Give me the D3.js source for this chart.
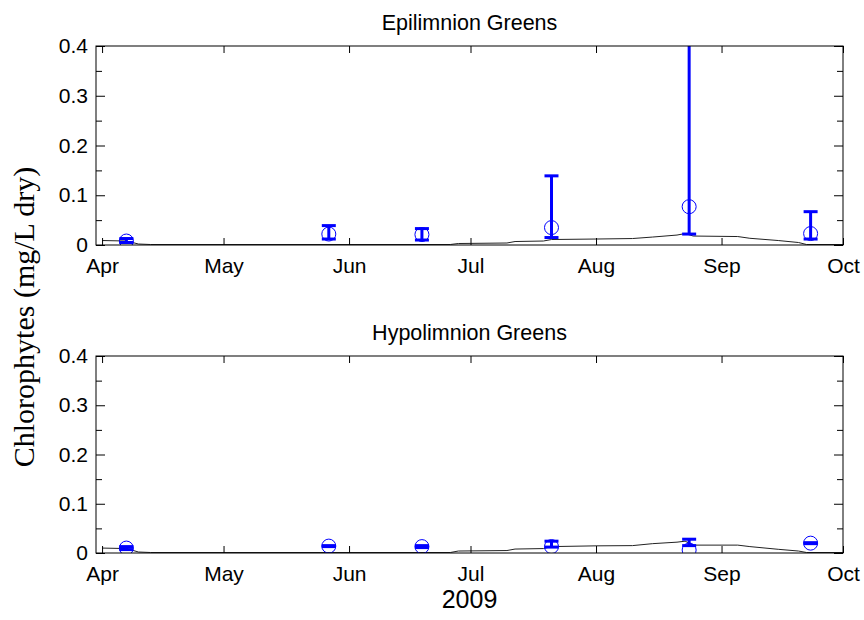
<!DOCTYPE html>
<html>
<head>
<meta charset="utf-8">
<script src="https://cdn.jsdelivr.net/npm/d3@7"></script>
<style>
  body { margin: 0; background: #fff; }
  svg text { font-family: Arial, "Liberation Sans", Helvetica, sans-serif; fill: #000; }
  .tick line { stroke: #000; }
  .ylab { font-family: "Times New Roman", "Liberation Serif", serif !important; }
</style>
</head>
<body>
<div id="chart"></div>
<script>
// sampling dates and observations (mean, error-bar low/high)
const sampleDates = ["2009-04-07", "2009-05-27", "2009-06-19", "2009-07-21", "2009-08-24", "2009-09-23"];
const epiObs  = [0.008, 0.022, 0.021, 0.035, 0.077, 0.023];
const epiLo   = [0.005, 0.012, 0.010, 0.015, 0.022, 0.012];
const epiHi   = [0.013, 0.039, 0.033, 0.139, 0.450, 0.067];
const hypoObs = [0.010, 0.014, 0.013, 0.013, 0.006, 0.020];
const hypoLo  = [0.007, 0.013, 0.011, 0.012, 0.015, 0.019];
const hypoHi  = [0.013, 0.015, 0.015, 0.024, 0.028, 0.021];

// simulated (model) series
const modelDates = ["2009-04-01", "2009-04-07", "2009-04-10", "2009-04-13", "2009-06-26", "2009-06-28",
  "2009-07-10", "2009-07-12", "2009-07-19", "2009-07-21", "2009-08-01", "2009-08-10", "2009-08-15",
  "2009-08-21", "2009-08-23", "2009-08-25", "2009-09-05", "2009-09-08", "2009-09-15", "2009-09-20",
  "2009-09-22", "2009-10-01"];
const epiModel  = [0.009, 0.008, 0.002, 0.001, 0.001, 0.003, 0.004, 0.007, 0.008, 0.011, 0.012, 0.013,
  0.016, 0.020, 0.023, 0.018, 0.017, 0.0135, 0.009, 0.005, 0.001, 0.001];
const hypoModel = [0.010, 0.009, 0.002, 0.001, 0.001, 0.004, 0.005, 0.008, 0.009, 0.013, 0.0145, 0.015,
  0.019, 0.022, 0.024, 0.016, 0.016, 0.013, 0.0075, 0.004, 0.001, 0.001];

const yTicks = [0, 0.1, 0.2, 0.3, 0.4];
const yMinor = [0.05, 0.15, 0.25, 0.35];
const xLabel = "2009";
const yLabel = "Chlorophytes (mg/L dry)";

const W = 864, H = 620;
const left = 96, right = 843;
const parse = d3.timeParse("%Y-%m-%d");
const blue = "#0000ff";

const svg = d3.select("#chart").append("svg")
  .attr("width", W)
  .attr("height", H);

const x = d3.scaleTime()
  .domain([new Date(2009, 2, 30, 12), new Date(2009, 9, 1)])
  .range([left, right]);
const months = d3.timeMonth.range(new Date(2009, 3, 1), new Date(2009, 9, 2));

function panel(id, title, top, bottom, obs, lo, hi, model) {
  const y = d3.scaleLinear().domain([0, 0.4]).range([bottom, top]);
  const g = svg.append("g");

  g.append("clipPath").attr("id", id)
    .append("rect")
    .attr("x", left).attr("y", top)
    .attr("width", right - left).attr("height", bottom - top);

  // title
  g.append("text")
    .attr("x", (left + right) / 2)
    .attr("y", top - 16.5)
    .attr("text-anchor", "middle")
    .style("font-size", "21.5px")
    .text(title);

  const plot = g.append("g").attr("clip-path", `url(#${id})`);

  // model line
  const pts = modelDates.map((d, i) => [parse(d), model[i]]);
  plot.append("path")
    .datum(pts)
    .attr("fill", "none")
    .attr("stroke", "#222")
    .attr("stroke-width", 1)
    .attr("d", d3.line().x(d => x(d[0])).y(d => y(d[1])));

  // error bars
  const obsData = sampleDates.map((d, i) => ({ date: parse(d), v: obs[i], lo: lo[i], hi: hi[i] }));
  const eb = plot.selectAll("g.eb").data(obsData).enter().append("g")
    .attr("stroke", blue)
    .attr("stroke-width", 3);
  eb.append("line")
    .attr("x1", d => x(d.date)).attr("x2", d => x(d.date))
    .attr("y1", d => y(d.lo)).attr("y2", d => y(d.hi));
  eb.append("line")
    .attr("x1", d => x(d.date) - 7).attr("x2", d => x(d.date) + 7)
    .attr("y1", d => y(d.lo)).attr("y2", d => y(d.lo));
  eb.append("line")
    .attr("x1", d => x(d.date) - 7).attr("x2", d => x(d.date) + 7)
    .attr("y1", d => y(d.hi)).attr("y2", d => y(d.hi));

  plot.selectAll("circle").data(obsData).enter().append("circle")
    .attr("cx", d => x(d.date))
    .attr("cy", d => y(d.v))
    .attr("r", 7)
    .attr("fill", "none")
    .attr("stroke", blue)
    .attr("stroke-width", 1);

  // axes, ticks pointing inward
  g.append("g").attr("transform", `translate(0,${bottom})`)
    .call(d3.axisBottom(x).tickValues(months).tickFormat(d3.timeFormat("%b")).tickSize(-7).tickPadding(13))
    .style("font-size", "21px");
  g.append("g").attr("transform", `translate(0,${top})`)
    .call(d3.axisTop(x).tickValues(months).tickFormat("").tickSize(-7));

  g.append("g").attr("transform", `translate(${left},0)`)
    .call(d3.axisLeft(y).tickValues(yTicks).tickFormat(d3.format("~g")).tickSize(-9).tickPadding(8))
    .style("font-size", "21px");
  g.append("g").attr("transform", `translate(${left},0)`)
    .call(d3.axisLeft(y).tickValues(yMinor).tickFormat("").tickSize(-6));
  g.append("g").attr("transform", `translate(${right},0)`)
    .call(d3.axisRight(y).tickValues(yTicks).tickFormat("").tickSize(-9));
  g.append("g").attr("transform", `translate(${right},0)`)
    .call(d3.axisRight(y).tickValues(yMinor).tickFormat("").tickSize(-6));

  g.selectAll(".domain").remove();
  g.selectAll("text").attr("fill", "#000");

  g.append("rect")
    .attr("x", left).attr("y", top)
    .attr("width", right - left).attr("height", bottom - top)
    .attr("fill", "none")
    .attr("stroke", "#000")
    .attr("stroke-width", 1);
}

panel("clipEpi", "Epilimnion Greens", 46, 245, epiObs, epiLo, epiHi, epiModel);
panel("clipHypo", "Hypolimnion Greens", 356, 553, hypoObs, hypoLo, hypoHi, hypoModel);

svg.append("text")
  .attr("x", (left + right) / 2)
  .attr("y", 608)
  .attr("text-anchor", "middle")
  .style("font-size", "25px")
  .text(xLabel);

svg.append("text")
  .attr("class", "ylab")
  .attr("transform", "translate(34,317) rotate(-90)")
  .attr("text-anchor", "middle")
  .style("font-size", "30px")
  .text(yLabel);
</script>
</body>
</html>
